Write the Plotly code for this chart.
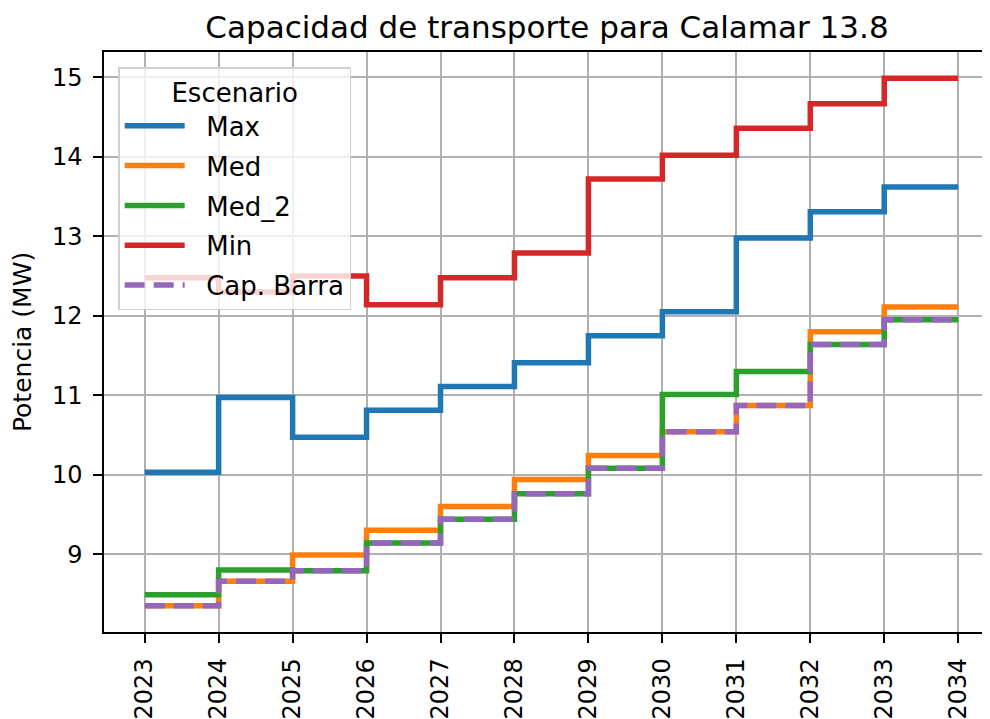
import plotly.graph_objects as go

years = [2023, 2024, 2025, 2026, 2027, 2028, 2029, 2030, 2031, 2032, 2033, 2034]

max_vals = [10.03, 10.97, 10.47, 10.81, 11.11, 11.41, 11.75, 12.05, 12.98, 13.31, 13.62, 13.62]
med_vals = [8.35, 8.66, 8.99, 9.30, 9.60, 9.94, 10.24, 10.54, 10.87, 11.80, 12.11, 12.11]
med2_vals = [8.49, 8.80, 8.79, 9.14, 9.44, 9.76, 10.08, 11.01, 11.30, 11.64, 11.95, 11.95]
min_vals = [12.48, 12.30, 12.50, 12.14, 12.48, 12.79, 13.72, 14.02, 14.36, 14.67, 14.99, 14.99]
cap_barra = [8.35, 8.66, 8.79, 9.14, 9.44, 9.76, 10.08, 10.54, 10.87, 11.64, 11.95, 11.95]

series = [
    ("Max", max_vals, "#1f77b4", "solid"),
    ("Med", med_vals, "#ff7f0e", "solid"),
    ("Med_2", med2_vals, "#2ca02c", "solid"),
    ("Min", min_vals, "#d62728", "solid"),
    ("Cap. Barra", cap_barra, "#9467bd", "20px,9px"),
]

FONT = "DejaVu Sans"
W, H = 982, 711  # page has an 8px body margin
PAD = "\u00a0\u00a0"  # gap between legend handle and label

fig = go.Figure()
for i, (name, vals, color, dash) in enumerate(series):
    fig.add_trace(go.Scatter(
        x=years, y=vals, name=PAD + name, mode="lines",
        line=dict(color=color, width=5.5, shape="hv", dash=dash),
        legendgroup=f"g{i}",
    ))

fig.update_layout(
    width=W, height=H,
    margin=dict(l=96, r=0, t=44, b=87, autoexpand=False),
    paper_bgcolor="white", plot_bgcolor="white",
    font=dict(family=FONT, size=24, color="black"),
    title=dict(text="Capacidad de transporte para Calamar 13.8",
               x=0.5, xref="paper", xanchor="center",
               y=1 - 19 / H, yref="container", yanchor="middle",
               font=dict(family=FONT, size=31, color="black")),
    showlegend=True,
    legend=dict(
        x=0.016, y=0.974, xanchor="left", yanchor="top",
        bgcolor="rgba(255,255,255,0.8)", bordercolor="#d0d0d0", borderwidth=1.5,
        font=dict(family=FONT, size=26, color="black"),
        title=dict(text="Escenario", side="top center",
                   font=dict(family=FONT, size=26, color="black")),
        tracegroupgap=3,
        itemwidth=60,
    ),
)

fig.update_xaxes(
    range=[2022.45, 2034.43],
    tickmode="array", tickvals=years, ticktext=[str(y) for y in years],
    tickangle=-90,
    showgrid=True, gridcolor="#b0b0b0", gridwidth=1.5,
    showline=True, linecolor="black", linewidth=1.5, mirror=True,
    ticks="outside", ticklen=9, tickwidth=1.5, tickcolor="black",
    ticklabelstandoff=6,
    zeroline=False, automargin=False,
    tickfont=dict(family=FONT, size=24, color="black"),
)
fig.update_yaxes(
    range=[8.02, 15.32],
    tickmode="array", tickvals=[9, 10, 11, 12, 13, 14, 15],
    showgrid=True, gridcolor="#b0b0b0", gridwidth=1.5,
    showline=True, linecolor="black", linewidth=1.5, mirror=False,
    ticks="outside", ticklen=9, tickwidth=1.5, tickcolor="black",
    ticklabelstandoff=6,
    zeroline=False, automargin=False,
    tickfont=dict(family=FONT, size=24, color="black"),
    title=dict(text="Potencia (MW)", standoff=14,
               font=dict(family=FONT, size=25, color="black")),
)

fig.write_html("out.html")
